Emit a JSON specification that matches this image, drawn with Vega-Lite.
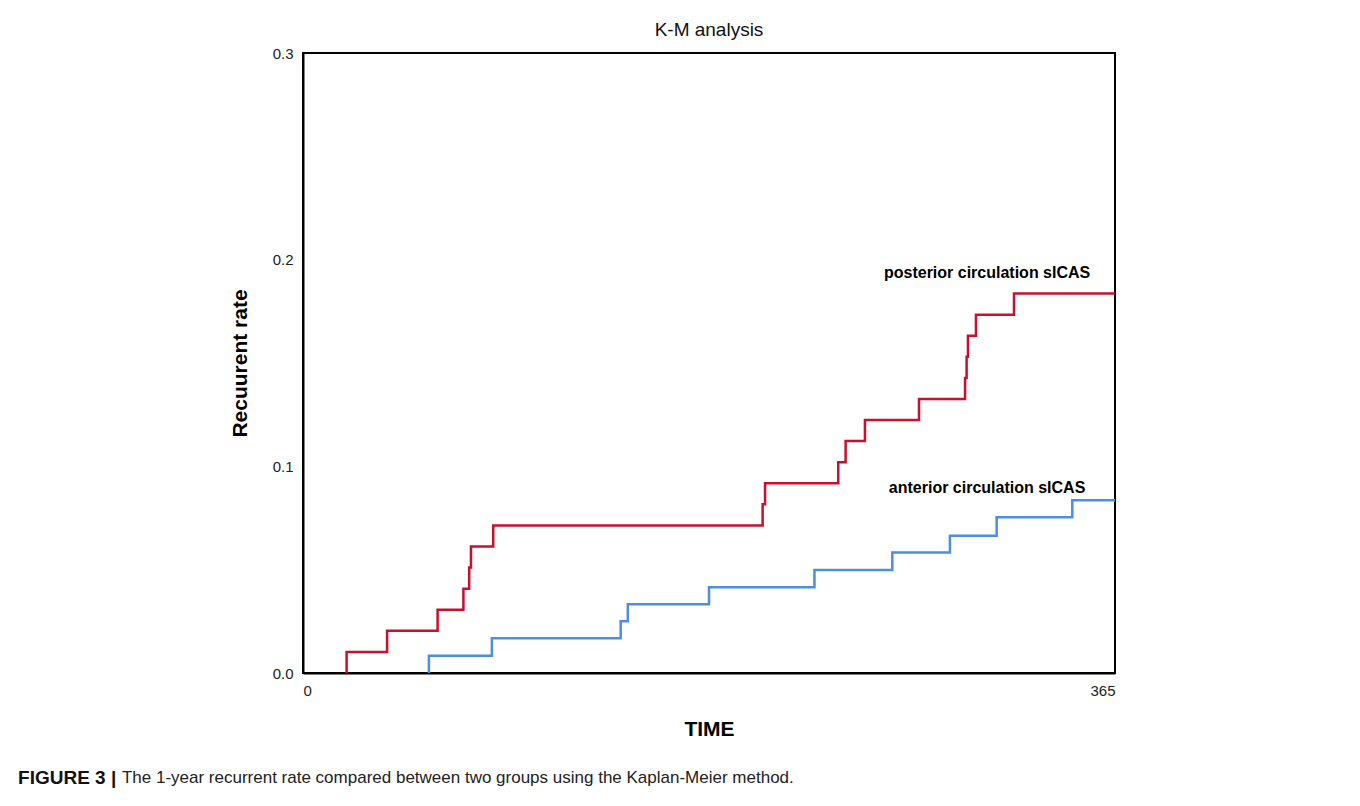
{
  "$schema": "https://vega.github.io/schema/vega-lite/v6.json",
  "width": 812,
  "height": 620,
  "autosize": {"type": "none"},
  "padding": {"left": 303, "top": 53, "right": 245, "bottom": 133},
  "background": "white",
  "title": {"text": "K-M analysis", "fontSize": 19, "fontWeight": 500, "font": "Liberation Sans", "color": "#111", "offset": 6, "anchor": "middle"},
  "config": {
    "view": {"stroke": "black", "strokeWidth": 2},
    "axis": {"domainColor": "black", "domainWidth": 2, "ticks": false, "grid": false, "labelFont": "Liberation Sans", "labelFontSize": 15, "labelColor": "#222", "titleFont": "Liberation Sans", "titleFontSize": 21, "titleFontWeight": "bold", "titleColor": "black", "zindex": 1}
  },
  "datasets": {
    "curves": [
      {"group": "posterior", "time": 19.6, "rate": 0},
      {"group": "posterior", "time": 19.6, "rate": 0.0102},
      {"group": "posterior", "time": 37.8, "rate": 0.0204},
      {"group": "posterior", "time": 60.5, "rate": 0.0306},
      {"group": "posterior", "time": 72.1, "rate": 0.0408},
      {"group": "posterior", "time": 74.7, "rate": 0.051},
      {"group": "posterior", "time": 75.5, "rate": 0.0612},
      {"group": "posterior", "time": 85.5, "rate": 0.0714},
      {"group": "posterior", "time": 206.6, "rate": 0.0816},
      {"group": "posterior", "time": 207.7, "rate": 0.0918},
      {"group": "posterior", "time": 240.6, "rate": 0.102},
      {"group": "posterior", "time": 243.9, "rate": 0.1122},
      {"group": "posterior", "time": 252.6, "rate": 0.1224},
      {"group": "posterior", "time": 276.9, "rate": 0.1326},
      {"group": "posterior", "time": 297.6, "rate": 0.1428},
      {"group": "posterior", "time": 298.3, "rate": 0.153},
      {"group": "posterior", "time": 298.9, "rate": 0.1632},
      {"group": "posterior", "time": 302.5, "rate": 0.1734},
      {"group": "posterior", "time": 319.6, "rate": 0.1836},
      {"group": "posterior", "time": 365, "rate": 0.1836},
      {"group": "anterior", "time": 56.6, "rate": 0},
      {"group": "anterior", "time": 56.6, "rate": 0.0084},
      {"group": "anterior", "time": 84.9, "rate": 0.0168},
      {"group": "anterior", "time": 142.8, "rate": 0.025},
      {"group": "anterior", "time": 146.0, "rate": 0.0333},
      {"group": "anterior", "time": 182.5, "rate": 0.0415},
      {"group": "anterior", "time": 229.9, "rate": 0.0498},
      {"group": "anterior", "time": 264.9, "rate": 0.0583},
      {"group": "anterior", "time": 290.8, "rate": 0.0664},
      {"group": "anterior", "time": 311.8, "rate": 0.0754},
      {"group": "anterior", "time": 345.8, "rate": 0.0836},
      {"group": "anterior", "time": 365, "rate": 0.0836}
    ],
    "labels": [
      {"label": "posterior circulation sICAS", "time": 307.5, "rate": 0.1937},
      {"label": "anterior circulation sICAS", "time": 307.5, "rate": 0.0894}
    ],
    "captionBold": [
      {"part": "FIGURE 3 |", "time": -128.1, "rate": -0.0507}
    ],
    "captionText": [
      {"part": "The 1-year recurrent rate compared between two groups using the Kaplan-Meier method.", "time": -81.4, "rate": -0.0507}
    ]
  },
  "layer": [
    {
      "data": {"name": "curves"},
      "mark": {"type": "line", "interpolate": "step-after", "strokeWidth": 2.5},
      "encoding": {
        "x": {"field": "time", "type": "quantitative", "scale": {"domain": [0, 365], "nice": false, "zero": false},
              "axis": {"values": [0, 365], "format": "d", "labelPadding": 10, "title": "TIME", "titlePadding": 20}},
        "y": {"field": "rate", "type": "quantitative", "scale": {"domain": [0, 0.3], "nice": false},
              "axis": {"values": [0, 0.1, 0.2, 0.3], "format": ".1f", "labelPadding": 10, "title": "Recuurent rate", "titlePadding": 22}},
        "color": {"field": "group", "type": "nominal", "scale": {"domain": ["posterior", "anterior"], "range": ["#C8102E", "#4A8FE0"]}, "legend": null},
        "detail": {"field": "group"}
      }
    },
    {
      "data": {"name": "labels"},
      "mark": {"type": "text", "font": "Liberation Sans", "fontSize": 16, "fontWeight": "bold", "color": "black", "align": "center", "baseline": "middle"},
      "encoding": {
        "x": {"field": "time", "type": "quantitative"},
        "y": {"field": "rate", "type": "quantitative"},
        "text": {"field": "label", "type": "nominal"}
      }
    },
    {
      "data": {"name": "captionBold"},
      "mark": {"type": "text", "font": "Liberation Sans", "fontSize": 19, "fontWeight": "bold", "color": "#111", "align": "left", "baseline": "middle"},
      "encoding": {
        "x": {"field": "time", "type": "quantitative"},
        "y": {"field": "rate", "type": "quantitative"},
        "text": {"field": "part", "type": "nominal"}
      }
    },
    {
      "data": {"name": "captionText"},
      "mark": {"type": "text", "font": "Liberation Sans", "fontSize": 17, "color": "#222", "align": "left", "baseline": "middle"},
      "encoding": {
        "x": {"field": "time", "type": "quantitative"},
        "y": {"field": "rate", "type": "quantitative"},
        "text": {"field": "part", "type": "nominal"}
      }
    }
  ]
}
